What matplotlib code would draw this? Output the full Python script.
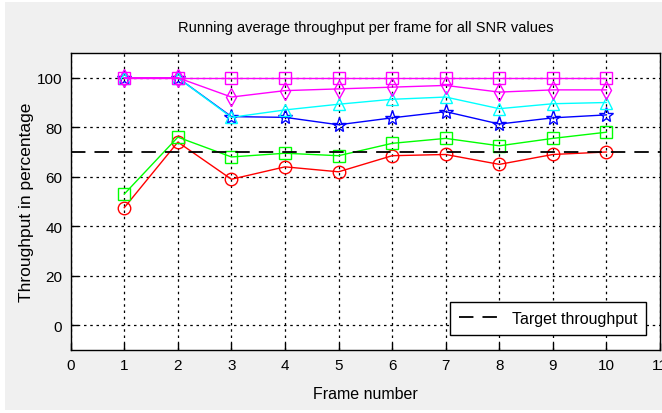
import matplotlib
matplotlib.use("Agg")
import matplotlib.pyplot as plt
from matplotlib.patches import Rectangle

frames = [1, 2, 3, 4, 5, 6, 7, 8, 9, 10]
snr_red = [47.5, 74, 59, 64, 62, 68.5, 69, 65, 69, 70]
snr_green = [53, 76, 68, 69.5, 68.5, 73.5, 75.5, 72.5, 75.5, 78]
snr_blue = [100, 100, 84.3, 84, 81, 83.8, 86.3, 81.3, 83.8, 85]
snr_cyan = [100, 100, 84, 87, 89.3, 91.3, 92.2, 87.5, 89.5, 90]
snr_magenta_d = [100, 100, 92.2, 94.8, 95.5, 96.2, 96.9, 94.2, 95.1, 95.1]
snr_magenta_s = [100, 100, 100, 100, 100, 100, 100, 100, 100, 100]
target = 70
xticks = list(range(0, 12))
yticks = [0, 20, 40, 60, 80, 100]

font = "Liberation Sans"

fig = plt.figure(figsize=(6.62, 4.14), dpi=100, facecolor="white")
fig.patches.append(Rectangle((5 / 662, 3 / 414), 657 / 662, 408 / 414,
                             transform=fig.transFigure, facecolor="#f0f0f0",
                             edgecolor="none", zorder=-10))
ax = fig.add_axes([70.7 / 662, 63 / 414, 589.3 / 662, 297 / 414])

series = [
    (snr_red, "red", "o"),
    (snr_green, "#00ff00", "s"),
    (snr_blue, "blue", "*"),
    (snr_cyan, "cyan", "^"),
    (snr_magenta_d, "magenta", "d"),
    (snr_magenta_s, "magenta", "s"),
]
for vals, col, mk in series:
    ax.plot(frames, vals, color=col, marker=mk, markersize=9 if mk != "*" else 11,
            markerfacecolor="none", markeredgecolor=col, linewidth=1.0,
            markeredgewidth=1.0)

ax.axhline(target, color="black", linestyle=(0, (8, 5)), linewidth=1.3,
           label="Target throughput")

ax.set_xlim(0, 11)
ax.set_ylim(-10, 110)
ax.set_xticks(xticks)
ax.set_yticks(yticks)
ax.grid(True, color="black", linestyle=(0, (2, 3)), linewidth=0.9)
ax.tick_params(direction="in", length=5, width=1, labelsize=11, pad=6)
for lab in ax.get_xticklabels() + ax.get_yticklabels():
    lab.set_family(font)
for s in ax.spines.values():
    s.set_linewidth(1.0)

ax.set_title("Running average throughput per frame for all SNR values",
             family=font, fontsize=10.5, pad=16)
ax.set_xlabel("Frame number", family=font, fontsize=11.5, labelpad=10)
ax.set_ylabel("Throughput in percentage", family=font, fontsize=12.5,
              labelpad=2)

leg = ax.legend(loc="lower right", prop={"family": font, "size": 11.5},
                fancybox=False, edgecolor="black", framealpha=1,
                handlelength=2.8, borderpad=0.55, handletextpad=0.5,
                bbox_to_anchor=(0.99, 0.025))
leg.get_frame().set_linewidth(1.0)

fig.savefig("out.png", dpi=100, facecolor=fig.get_facecolor())
